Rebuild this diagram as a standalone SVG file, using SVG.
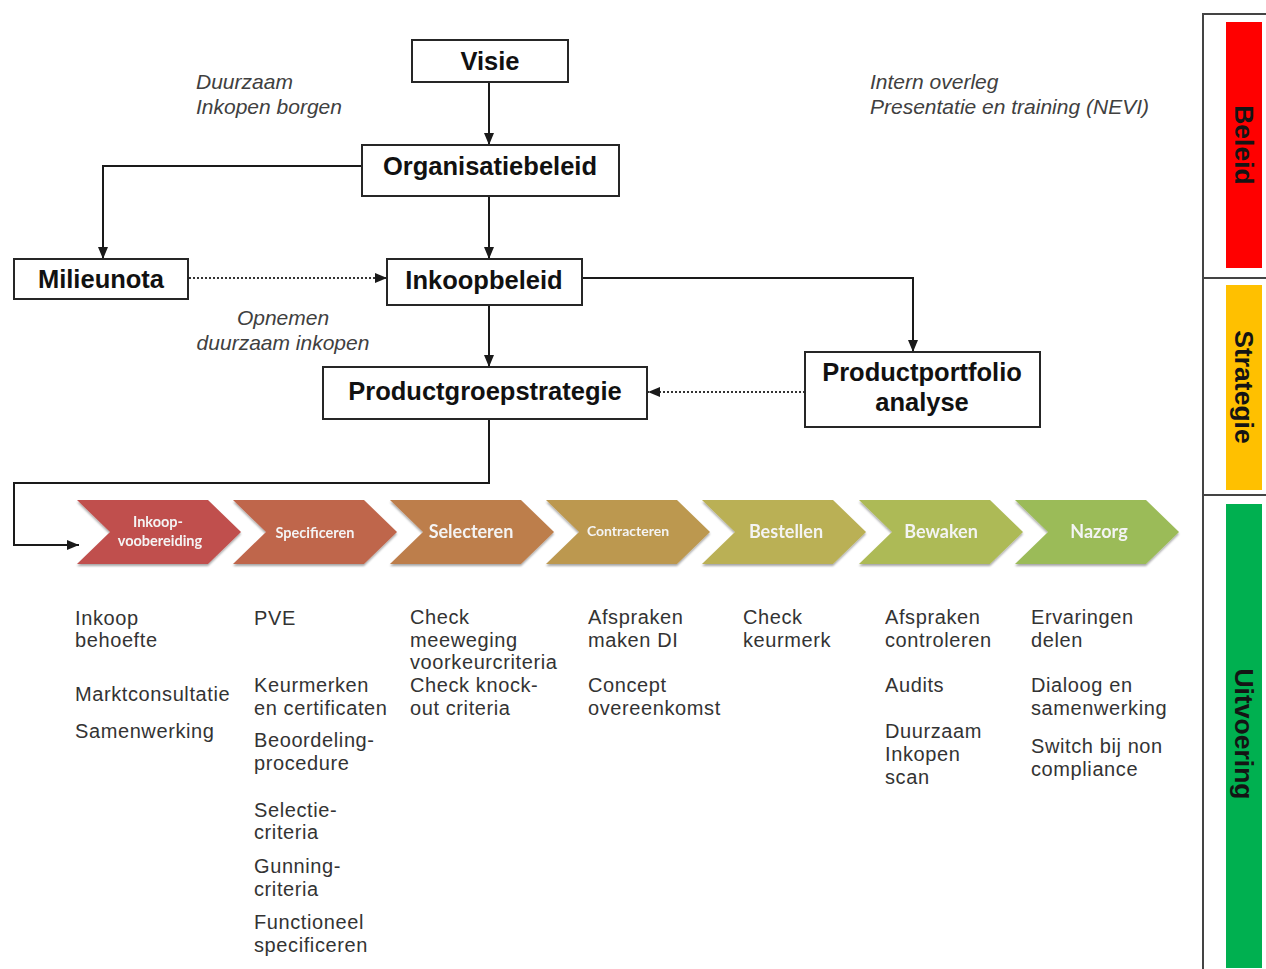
<svg xmlns="http://www.w3.org/2000/svg" width="1266" height="969" viewBox="0 0 1266 969">
  <style>
    .box { fill: #ffffff; stroke: #262626; stroke-width: 2; }
    .boxlabel { font-family: "Liberation Sans", Arial, sans-serif; font-weight: bold; font-size: 25.5px; fill: #111111; text-anchor: middle; }
    .note { font-family: "Liberation Sans", Arial, sans-serif; font-style: italic; font-size: 21px; fill: #404040; }
    .wire { fill: none; stroke: #1a1a1a; stroke-width: 2; }
    .dotted { fill: none; stroke: #333333; stroke-width: 2; stroke-dasharray: 2 2; }
    .step { font-family: Lato, "Liberation Sans", sans-serif; font-weight: bold; fill: #f4f4f4; text-anchor: middle; }
    .task { font-family: "Liberation Sans", Arial, sans-serif; font-size: 20px; letter-spacing: 0.6px; fill: #333333; }
    .frame { fill: none; stroke: #444444; stroke-width: 2; }
    .level { font-family: "Liberation Sans", Arial, sans-serif; font-weight: bold; font-size: 26.5px; fill: #141414; text-anchor: middle; }
  </style>
  <defs>
    <marker id="arrow" viewBox="0 0 12 10" refX="12" refY="5" markerWidth="12" markerHeight="10" markerUnits="userSpaceOnUse" orient="auto">
      <path d="M0,0 L12,5 L0,10 z" fill="#1a1a1a"/>
    </marker>
    <filter id="shade" x="-5%" y="-10%" width="110%" height="130%">
      <feDropShadow dx="0" dy="2" stdDeviation="1.2" flood-color="#000000" flood-opacity="0.35"/>
    </filter>
    <path id="chev" d="M0,0 L131,0 L164,32 L131,64 L0,64 L33,32 z"/>
  </defs>

  <!-- connectors -->
  <g id="connectors">
    <path class="wire" d="M489,82 L489,145" marker-end="url(#arrow)"/>
    <path class="wire" d="M362,166 L103,166 L103,259" marker-end="url(#arrow)"/>
    <path class="wire" d="M489,196 L489,259" marker-end="url(#arrow)"/>
    <path class="dotted" d="M189,278 L387,278" marker-end="url(#arrow)"/>
    <path class="wire" d="M582,278 L913,278 L913,352" marker-end="url(#arrow)"/>
    <path class="wire" d="M489,305 L489,367" marker-end="url(#arrow)"/>
    <path class="dotted" d="M805,392 L648,392" marker-end="url(#arrow)"/>
    <path class="wire" d="M489,419 L489,483 L14,483 L14,545 L79,545" marker-end="url(#arrow)"/>
  </g>

  <!-- policy nodes -->
  <g id="visie">
    <rect class="box" x="412" y="40" width="156" height="42"/>
    <text class="boxlabel" x="490" y="70">Visie</text>
  </g>
  <g id="organisatiebeleid">
    <rect class="box" x="362" y="145" width="257" height="51"/>
    <text class="boxlabel" x="490" y="175">Organisatiebeleid</text>
  </g>
  <g id="milieunota">
    <rect class="box" x="14" y="259" width="174" height="40"/>
    <text class="boxlabel" x="101" y="288">Milieunota</text>
  </g>
  <g id="inkoopbeleid">
    <rect class="box" x="387" y="259" width="195" height="46"/>
    <text class="boxlabel" x="484" y="289">Inkoopbeleid</text>
  </g>
  <g id="productgroepstrategie">
    <rect class="box" x="323" y="367" width="324" height="52"/>
    <text class="boxlabel" x="485" y="400">Productgroepstrategie</text>
  </g>
  <g id="productportfolio">
    <rect class="box" x="805" y="352" width="235" height="75"/>
    <text class="boxlabel" x="922" y="381">Productportfolio</text>
    <text class="boxlabel" x="922" y="411">analyse</text>
  </g>

  <!-- annotations -->
  <g id="notes">
    <text class="note" x="196" y="89">Duurzaam</text>
    <text class="note" x="196" y="114">Inkopen borgen</text>
    <text class="note" x="870" y="89">Intern overleg</text>
    <text class="note" x="870" y="114">Presentatie en training (NEVI)</text>
    <text class="note" x="283" y="325" text-anchor="middle">Opnemen</text>
    <text class="note" x="283" y="350" text-anchor="middle">duurzaam inkopen</text>
  </g>

  <!-- process chevrons -->
  <g id="process" filter="url(#shade)">
    <g id="step-voorbereiding">
      <use href="#chev" x="77" y="500" fill="#C0504D"/>
      <text class="step" x="158" y="527" font-size="14.5">Inkoop-</text>
      <text class="step" x="160" y="546" font-size="14.5">voobereiding</text>
    </g>
    <g id="step-specificeren">
      <use href="#chev" x="233" y="500" fill="#BF664C"/>
      <text class="step" x="315" y="538" font-size="14.5">Specificeren</text>
    </g>
    <g id="step-selecteren">
      <use href="#chev" x="390" y="500" fill="#BD7E4C"/>
      <text class="step" x="471" y="538" font-size="18">Selecteren</text>
    </g>
    <g id="step-contracteren">
      <use href="#chev" x="546" y="500" fill="#BC9850"/>
      <text class="step" x="628" y="536" font-size="14">Contracteren</text>
    </g>
    <g id="step-bestellen">
      <use href="#chev" x="702" y="500" fill="#BAB054"/>
      <text class="step" x="786" y="538" font-size="18">Bestellen</text>
    </g>
    <g id="step-bewaken">
      <use href="#chev" x="859" y="500" fill="#ADBA56"/>
      <text class="step" x="941" y="538" font-size="18">Bewaken</text>
    </g>
    <g id="step-nazorg">
      <use href="#chev" x="1015" y="500" fill="#9BBB59"/>
      <text class="step" x="1099" y="538" font-size="18">Nazorg</text>
    </g>
  </g>

  <!-- activities per step -->
  <g id="tasks-voorbereiding" class="task">
    <text x="75" y="625">Inkoop</text>
    <text x="75" y="647">behoefte</text>
    <text x="75" y="701">Marktconsultatie</text>
    <text x="75" y="738">Samenwerking</text>
  </g>
  <g id="tasks-specificeren" class="task">
    <text x="254" y="625">PVE</text>
    <text x="254" y="692">Keurmerken</text>
    <text x="254" y="715">en certificaten</text>
    <text x="254" y="747">Beoordeling-</text>
    <text x="254" y="770">procedure</text>
    <text x="254" y="817">Selectie-</text>
    <text x="254" y="839">criteria</text>
    <text x="254" y="873">Gunning-</text>
    <text x="254" y="896">criteria</text>
    <text x="254" y="929">Functioneel</text>
    <text x="254" y="952">specificeren</text>
  </g>
  <g id="tasks-selecteren" class="task">
    <text x="410" y="624">Check</text>
    <text x="410" y="647">meeweging</text>
    <text x="410" y="669">voorkeurcriteria</text>
    <text x="410" y="692">Check knock-</text>
    <text x="410" y="715">out criteria</text>
  </g>
  <g id="tasks-contracteren" class="task">
    <text x="588" y="624">Afspraken</text>
    <text x="588" y="647">maken DI</text>
    <text x="588" y="692">Concept</text>
    <text x="588" y="715">overeenkomst</text>
  </g>
  <g id="tasks-bestellen" class="task">
    <text x="743" y="624">Check</text>
    <text x="743" y="647">keurmerk</text>
  </g>
  <g id="tasks-bewaken" class="task">
    <text x="885" y="624">Afspraken</text>
    <text x="885" y="647">controleren</text>
    <text x="885" y="692">Audits</text>
    <text x="885" y="738">Duurzaam</text>
    <text x="885" y="761">Inkopen</text>
    <text x="885" y="784">scan</text>
  </g>
  <g id="tasks-nazorg" class="task">
    <text x="1031" y="624">Ervaringen</text>
    <text x="1031" y="647">delen</text>
    <text x="1031" y="692">Dialoog en</text>
    <text x="1031" y="715">samenwerking</text>
    <text x="1031" y="753">Switch bij non</text>
    <text x="1031" y="776">compliance</text>
  </g>

  <!-- level bands -->
  <g id="levels">
    <path class="frame" d="M1266,14 L1203,14 L1203,969 M1203,278 L1266,278 M1203,495 L1266,495"/>
    <g id="level-beleid">
      <rect x="1226" y="22" width="36" height="246" fill="#FF0000"/>
      <text class="level" transform="translate(1244,145) rotate(90)" x="0" y="9.5">Beleid</text>
    </g>
    <g id="level-strategie">
      <rect x="1226" y="285" width="36" height="205" fill="#FFC000"/>
      <text class="level" transform="translate(1244,387) rotate(90)" x="0" y="9.5">Strategie</text>
    </g>
    <g id="level-uitvoering">
      <rect x="1226" y="504" width="36" height="464" fill="#00B050"/>
      <text class="level" transform="translate(1244,734) rotate(90)" x="0" y="9.5">Uitvoering</text>
    </g>
  </g>
</svg>
